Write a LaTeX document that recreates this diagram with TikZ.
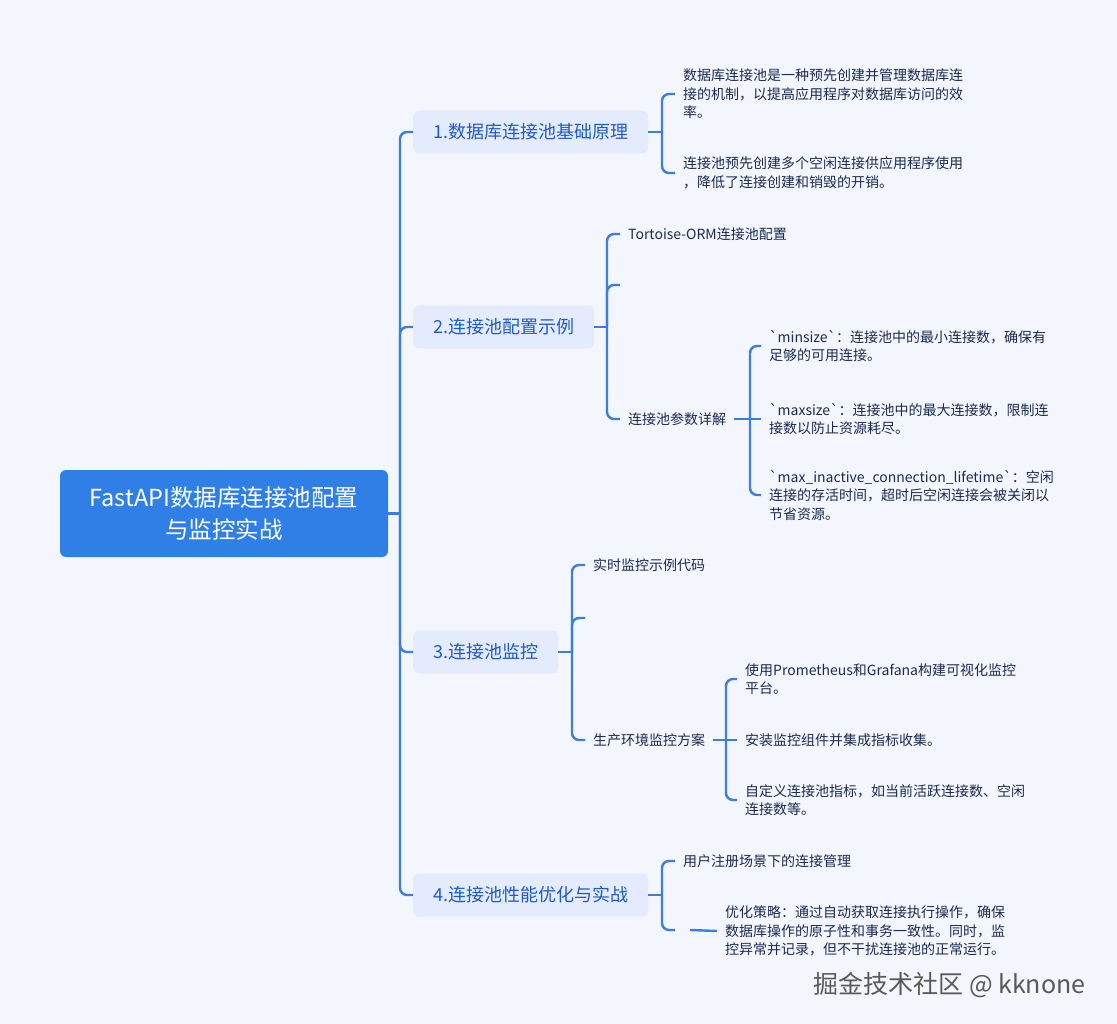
\documentclass[tikz,border=0pt]{standalone}
\usepackage{fontspec}
\newfontfamily\cjk{Noto Sans CJK SC}
\usetikzlibrary{positioning}
\definecolor{bgpage}{HTML}{F4F6FD}
\definecolor{rootblue}{HTML}{2F7FE6}
\definecolor{linkblue}{HTML}{3B7EDD}
\definecolor{catfill}{HTML}{E3EBFC}
\definecolor{cattext}{HTML}{1F5BC8}
\definecolor{leaftext}{HTML}{1B2A52}

\begin{document}
\begin{tikzpicture}[x=1pt, y=-1pt,
  root/.style={rectangle, rounded corners=6pt, fill=rootblue, text=white,
               minimum width=328pt, minimum height=87pt, align=center,
               font=\cjk\fontsize{23.5}{32}\selectfont},
  cat/.style={rectangle, rounded corners=6pt, fill=catfill, text=cattext,
              minimum height=43pt, inner xsep=20pt, anchor=west,
              font=\cjk\fontsize{18}{22}\selectfont},
  leaf/.style={anchor=west, inner xsep=8pt, inner ysep=0pt, align=left,
               text=leaftext, font=\cjk\fontsize{14}{18.5}\selectfont},
  link/.style={draw=linkblue, line width=2.4pt},
  elbow/.style={link, rounded corners=7pt}
]
  \fill[bgpage] (0,0) rectangle (1117,1024);
  \useasboundingbox (0,0) rectangle (1117,1024);

  \node[root] (root) at (224,513.5) {FastAPI数据库连接池配置\\与监控实战};
  \coordinate (trunk) at (400,513.5);

  \node[cat] (c1) at (413,132) {1.数据库连接池基础原理};
  \node[cat] (c2) at (413,327) {2.连接池配置示例};
  \node[cat] (c3) at (413,652) {3.连接池监控};
  \node[cat] (c4) at (413,895) {4.连接池性能优化与实战};

  \coordinate (j1) at (662,132);
  \coordinate (j2) at (607,327);
  \coordinate (j3) at (572,652);
  \coordinate (j4) at (662,895);

  \node[leaf] (l11) at (675,94) {数据库连接池是一种预先创建并管理数据库连\\接的机制，以提高应用程序对数据库访问的效\\率。};
  \node[leaf] (l12) at (675,173) {连接池预先创建多个空闲连接供应用程序使用\\，降低了连接创建和销毁的开销。};

  \node[leaf] (l21) at (620,234) {Tortoise-ORM连接池配置};
  \coordinate (e22) at (620,285);
  \node[leaf] (l23) at (620,419) {连接池参数详解};
  \coordinate (j23) at (750,419);
  \node[leaf] (p1) at (761,346) {`minsize`：连接池中的最小连接数，确保有\\足够的可用连接。};
  \node[leaf] (p2) at (761,419) {`maxsize`：连接池中的最大连接数，限制连\\接数以防止资源耗尽。};
  \node[leaf] (p3) at (761,495) {`max\_inactive\_connection\_lifetime`：空闲\\连接的存活时间，超时后空闲连接会被关闭以\\节省资源。};

  \node[leaf] (l31) at (585,565) {实时监控示例代码};
  \coordinate (e32) at (585,618);
  \node[leaf] (l33) at (585,740) {生产环境监控方案};
  \coordinate (j33) at (726,740);
  \node[leaf] (m1) at (737,679) {使用Prometheus和Grafana构建可视化监控\\平台。};
  \node[leaf] (m2) at (737,740) {安装监控组件并集成指标收集。};
  \node[leaf] (m3) at (737,800) {自定义连接池指标，如当前活跃连接数、空闲\\连接数等。};

  \node[leaf] (l41) at (675,861) {用户注册场景下的连接管理};
  \coordinate (e42) at (675,930);
  \coordinate (g42) at (690,930);
  \node[leaf] (l42) at (717,931) {优化策略：通过自动获取连接执行操作，确保\\数据库操作的原子性和事务一致性。同时，监\\控异常并记录，但不干扰连接池的正常运行。};

  \node[anchor=west, text=gray!70!black, font=\cjk\fontsize{25}{28}\selectfont]
    (mark) at (810,985) {掘金技术社区 @ kknone};

  \draw[link] (root.east) -- (trunk);
  \draw[elbow] (trunk) |- (c1.west);
  \draw[elbow] (trunk) |- (c2.west);
  \draw[elbow] (trunk) |- (c3.west);
  \draw[elbow] (trunk) |- (c4.west);

  \draw[link] (c1.east) -- (j1);
  \draw[elbow] (j1) |- (l11.west);
  \draw[elbow] (j1) |- (l12.west);

  \draw[link] (c2.east) -- (j2);
  \draw[elbow] (j2) |- (l21.west);
  \draw[elbow] (j2) |- (e22);
  \draw[elbow] (j2) |- (l23.west);
  \draw[link] (l23.east) -- (j23);
  \draw[elbow] (j23) |- (p1.west);
  \draw[link] (j23) -- (p2.west);
  \draw[elbow] (j23) |- (p3.west);

  \draw[link] (c3.east) -- (j3);
  \draw[elbow] (j3) |- (l31.west);
  \draw[elbow] (j3) |- (e32);
  \draw[elbow] (j3) |- (l33.west);
  \draw[link] (l33.east) -- (j33);
  \draw[elbow] (j33) |- (m1.west);
  \draw[link] (j33) -- (m2.west);
  \draw[elbow] (j33) |- (m3.west);

  \draw[link] (c4.east) -- (j4);
  \draw[elbow] (j4) |- (l41.west);
  \draw[elbow] (j4) |- (e42);
  \draw[link] (g42) -- (l42.west);
\end{tikzpicture}
\end{document}
